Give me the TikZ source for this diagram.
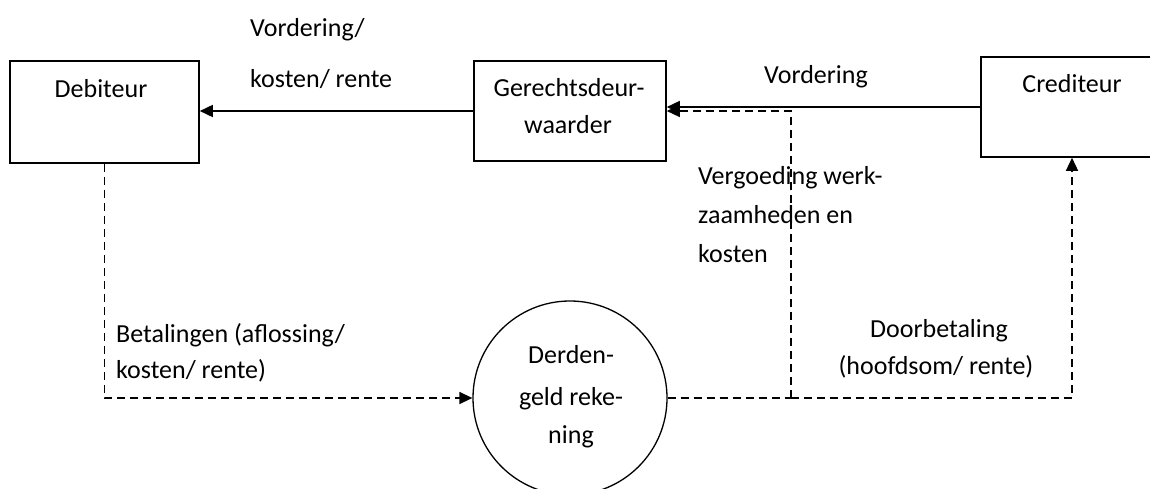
\documentclass[tikz,border=0pt]{standalone}
\usepackage{fontspec}
\setmainfont{Carlito}
\usetikzlibrary{arrows.meta,calc}
\begin{document}
\begin{tikzpicture}[x=1pt,y=-1pt,
  box/.style={draw, line width=1.6pt, inner sep=0pt},
  circ/.style={draw, circle, line width=1.3pt, inner sep=0pt},
  txt/.style={font=\fontsize{26}{31}\selectfont, inner sep=0pt},
  solidarrow/.style={line width=1.6pt, -{Triangle[length=13pt,width=12pt]}},
  dasharrow/.style={line width=1.5pt, dash pattern=on 8pt off 5pt, -{Triangle[length=13pt,width=12pt]}},
  dashline/.style={line width=1.5pt, dash pattern=on 8pt off 5pt}]
\clip (0,0) rectangle (1150,489);
\fill[white] (0,0) rectangle (1150,489);
% boxes
\node[box, minimum width=189pt, minimum height=102pt] (deb) at (104.5,112) {};
\node[box, minimum width=192pt, minimum height=100pt] (ger) at (570,111) {};
\node[box, minimum width=182pt, minimum height=100pt] (cred) at (1072,107) {};
\node[circ, minimum size=194pt] (rek) at (570,398) {};
% box texts
\node[txt, anchor=base] (tdeb) at (101,98) {Debiteur};
\node[txt, anchor=base] (tger1) at (569,97) {Gerechtsdeur-};
\node[txt, anchor=base] (tger2) at (568,134) {waarder};
\node[txt, anchor=base] (tcred) at (1072,93) {Crediteur};
\node[txt, anchor=base] (trek1) at (571,363) {Derden-};
\node[txt, anchor=base] (trek2) at (571,405) {geld reke-};
\node[txt, anchor=base] (trek3) at (571,443) {ning};
% connector labels
\node[txt, anchor=base west] (l1a) at (250,37) {Vordering/};
\node[txt, anchor=base west] (l1b) at (250,88) {kosten/ rente};
\node[txt, anchor=base] (l2) at (816,84) {Vordering};
\node[txt, anchor=base west] (l3a) at (698,185) {Vergoeding werk-};
\node[txt, anchor=base west] (l3b) at (698,223) {zaamheden en};
\node[txt, anchor=base west] (l3c) at (698,262) {kosten};
\node[txt, anchor=base west] (l4a) at (116,342) {Betalingen (aflossing/};
\node[txt, anchor=base west] (l4b) at (116,378) {kosten/ rente)};
\node[txt, anchor=base] (l5a) at (939,337) {Doorbetaling};
\node[txt, anchor=base] (l5b) at (936,374) {(hoofdsom/ rente)};
% connectors
\draw[solidarrow] (ger.west) -- (ger.west -| deb.east);
\draw[solidarrow] (cred.west) -- (cred.west -| ger.east);
\draw[dasharrow] (deb.south) |- (rek.west);
\coordinate (j) at (791,398);
\draw[dashline] (rek.east) -- (j);
\draw[dasharrow] (j) |- (ger.east);
\draw[dasharrow] (j) -| (cred.south);
\end{tikzpicture}
\end{document}
